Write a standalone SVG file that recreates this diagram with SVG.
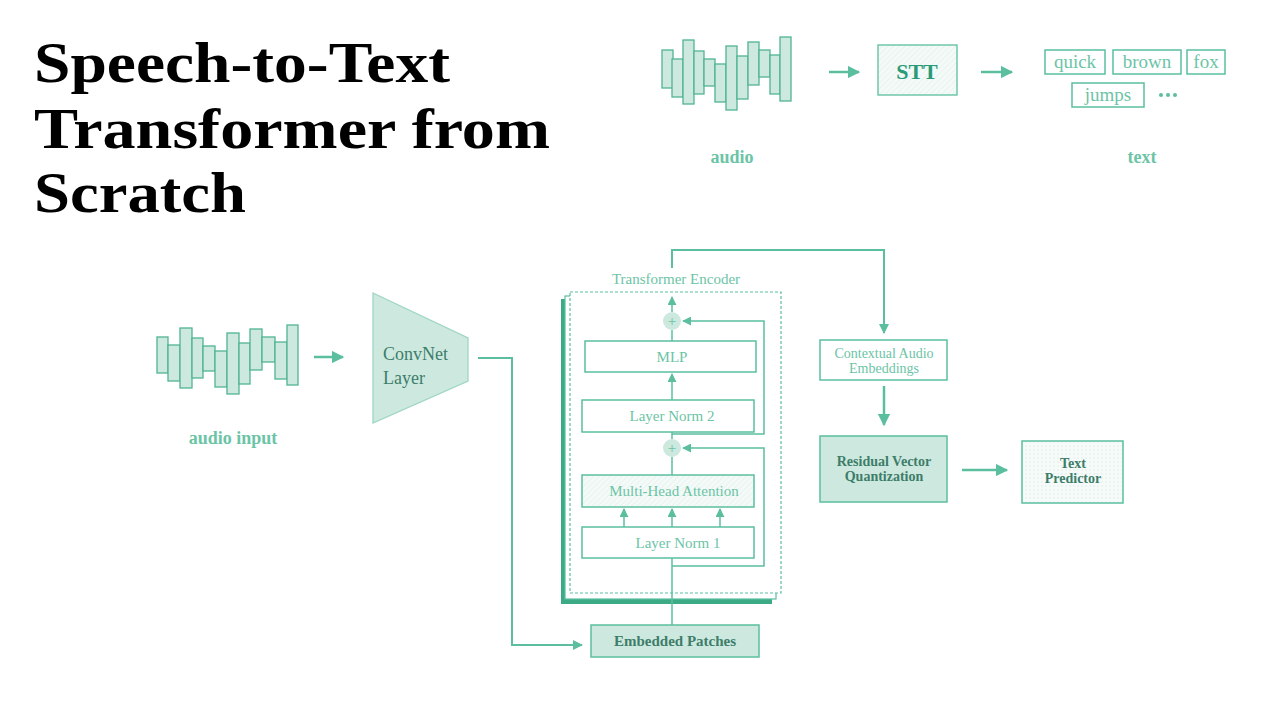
<svg xmlns="http://www.w3.org/2000/svg" width="1280" height="720" viewBox="0 0 1280 720">
<defs>
<style>
.s{fill:none;stroke:#5bbf9f;stroke-width:1.5}
.b{fill:#fff;stroke:#5bbf9f;stroke-width:1.5}
.f{fill:#cde9df;stroke:#5bbf9f;stroke-width:1.5}
.bar{fill:#cde9df;stroke:#4fb492;stroke-width:1.3}
.t{font-family:"Liberation Serif","DejaVu Serif",serif;fill:#6cc4a6;font-size:15px;text-anchor:middle}
.d{font-family:"Liberation Serif","DejaVu Serif",serif;fill:#3d7d6a;font-size:15px;text-anchor:middle;font-weight:bold}
.lbl{font-family:"Liberation Serif","DejaVu Serif",serif;fill:#6cc4a6;font-size:18px;text-anchor:middle;font-weight:bold}
.title{font-family:"Liberation Serif","DejaVu Serif",serif;fill:#000;font-size:58px;font-weight:bold}
</style>
<marker id="ah" viewBox="0 0 10 10" refX="9" refY="5" markerWidth="5" markerHeight="5" orient="auto-start-reverse"><path d="M0,0L10,5L0,10z" fill="#5bbf9f"/></marker>
<marker id="as" viewBox="0 0 10 10" refX="9" refY="5" markerWidth="6" markerHeight="6" orient="auto-start-reverse"><path d="M0,0L10,5L0,10z" fill="#5bbf9f"/></marker>
<pattern id="hatch" width="4" height="4" patternUnits="userSpaceOnUse" patternTransform="rotate(45)"><rect width="4" height="4" fill="#f4faf8"/><line x1="0" y1="0" x2="0" y2="4" stroke="#dcefe8" stroke-width="1"/></pattern>
<pattern id="dots" width="4" height="4" patternUnits="userSpaceOnUse"><rect width="4" height="4" fill="#f6fbf9"/><circle cx="2" cy="2" r="0.7" fill="#d6ece4"/></pattern>
</defs>
<rect width="1280" height="720" fill="#fff"/>
<g id="title">
<text class="title" x="34" y="82" textLength="416" lengthAdjust="spacingAndGlyphs">Speech-to-Text</text>
<text class="title" x="34" y="148" textLength="516" lengthAdjust="spacingAndGlyphs">Transformer from</text>
<text class="title" x="34" y="212" textLength="212" lengthAdjust="spacingAndGlyphs">Scratch</text>
</g>
<g id="audio-top">
<rect class="bar" x="662" y="50" width="11" height="38"/>
<rect class="bar" x="672" y="59" width="11" height="38"/>
<rect class="bar" x="683" y="40" width="11" height="64"/>
<rect class="bar" x="694" y="51" width="10" height="43"/>
<rect class="bar" x="704" y="59" width="11" height="27"/>
<rect class="bar" x="715" y="64" width="11" height="38"/>
<rect class="bar" x="726" y="46" width="11" height="64"/>
<rect class="bar" x="737" y="56" width="11" height="43"/>
<rect class="bar" x="748" y="42" width="11" height="43"/>
<rect class="bar" x="759" y="50" width="11" height="27"/>
<rect class="bar" x="770" y="55" width="10" height="39"/>
<rect class="bar" x="780" y="37" width="11" height="64"/>
<text class="lbl" x="732" y="163">audio</text>
</g>
<g id="stt">
<rect x="878" y="45" width="79" height="50" fill="url(#hatch)" stroke="#5bbf9f" stroke-width="1.3"/>
<text x="917" y="79" font-family="Liberation Serif,serif" font-size="22" font-weight="bold" fill="#2a9a78" text-anchor="middle">STT</text>
</g>
<g id="words">
<rect class="b" x="1045" y="50" width="60" height="24"/><text class="t" x="1075" y="68" style="font-size:19px">quick</text>
<rect class="b" x="1113" y="50" width="68" height="24"/><text class="t" x="1147" y="68" style="font-size:19px">brown</text>
<rect class="b" x="1187" y="50" width="38" height="24"/><text class="t" x="1206" y="68" style="font-size:19px">fox</text>
<rect class="b" x="1072" y="83" width="72" height="24"/><text class="t" x="1108" y="101" style="font-size:19px">jumps</text>
<circle cx="1161" cy="95" r="2" fill="#5bbf9f"/><circle cx="1168" cy="95" r="2" fill="#5bbf9f"/><circle cx="1175" cy="95" r="2" fill="#5bbf9f"/>
<text class="lbl" x="1142" y="163">text</text>
</g>
<g id="audio-input">
<rect class="bar" x="157" y="337" width="11" height="36"/>
<rect class="bar" x="168" y="345" width="12" height="36"/>
<rect class="bar" x="180" y="328" width="12" height="60"/>
<rect class="bar" x="192" y="338" width="11" height="40"/>
<rect class="bar" x="203" y="346" width="12" height="25"/>
<rect class="bar" x="215" y="351" width="12" height="36"/>
<rect class="bar" x="227" y="333" width="12" height="61"/>
<rect class="bar" x="239" y="343" width="11" height="41"/>
<rect class="bar" x="250" y="329" width="12" height="41"/>
<rect class="bar" x="262" y="337" width="13" height="25"/>
<rect class="bar" x="275" y="342" width="12" height="37"/>
<rect class="bar" x="287" y="325" width="11" height="60"/>
<text class="lbl" x="233" y="444">audio  input</text>
</g>
<g id="convnet">
<polygon points="373,293 468,338 468,381 373,423" fill="#cde9df" stroke="#9ed6c3" stroke-width="1.3"/>
<text x="383" y="360" font-family="Liberation Serif,serif" font-size="18" fill="#3d7d6a">ConvNet</text>
<text x="383" y="384" font-family="Liberation Serif,serif" font-size="18" fill="#3d7d6a">Layer</text>
</g>
<g id="encoder">
<rect x="561" y="299" width="211" height="305" fill="#3daa86"/>
<rect x="565" y="296" width="211" height="303" fill="#fff" stroke="#5bbf9f" stroke-width="1.2"/>
<rect x="570" y="292" width="211" height="301" fill="#fff" stroke="#5bbf9f" stroke-width="1.2" stroke-dasharray="3,2"/>
<text class="t" x="676" y="284">Transformer Encoder</text>
</g>
<g id="mlp"><rect class="b" x="585" y="341" width="171" height="31"/><text class="t" x="672" y="362">MLP</text></g>
<g id="ln2"><rect class="b" x="582" y="400" width="172" height="32"/><text class="t" x="672" y="421">Layer Norm 2</text></g>
<g id="mha"><rect x="582" y="475" width="172" height="32" fill="url(#hatch)" stroke="#5bbf9f" stroke-width="1.5"/><text class="t" x="674" y="496">Multi-Head Attention</text></g>
<g id="ln1"><rect class="b" x="582" y="527" width="172" height="31"/><text class="t" x="678" y="548">Layer Norm 1</text></g>
<g id="plus1"><circle cx="672" cy="321" r="9" fill="#cde9df"/><text class="t" x="672" y="326">+</text></g>
<g id="plus2"><circle cx="672" cy="448" r="9" fill="#cde9df"/><text class="t" x="672" y="453">+</text></g>
<g id="embedded"><rect class="f" x="591" y="625" width="168" height="32"/><text class="d" x="675" y="646">Embedded Patches</text></g>
<g id="contextual"><rect class="b" x="820" y="340" width="127" height="40"/><text class="t" x="884" y="358" style="font-size:14px">Contextual Audio</text><text class="t" x="884" y="373" style="font-size:14px">Embeddings</text></g>
<g id="rvq"><rect class="f" x="820" y="436" width="127" height="66"/><text class="d" x="884" y="466" style="font-size:14px">Residual Vector</text><text class="d" x="884" y="481" style="font-size:14px">Quantization</text></g>
<g id="predictor"><rect x="1022" y="441" width="101" height="62" fill="url(#dots)" stroke="#5bbf9f" stroke-width="1.5"/><text class="d" x="1073" y="468" style="font-size:14px">Text</text><text class="d" x="1073" y="483" style="font-size:14px">Predictor</text></g>
<g id="connectors">
<line class="s" x1="829" y1="72" x2="859" y2="72" marker-end="url(#ah)" style="stroke-width:2.5"/>
<line class="s" x1="981" y1="72" x2="1012" y2="72" marker-end="url(#ah)" style="stroke-width:2.5"/>
<line class="s" x1="314" y1="357" x2="343" y2="357" marker-end="url(#ah)" style="stroke-width:2.5"/>
<polyline class="s" points="478,358 512,358 512,645 582,645" marker-end="url(#ah)" style="stroke-width:2"/>
<line class="s" x1="672" y1="625" x2="672" y2="558"/>
<polyline class="s" points="672,566 764,566 764,448 683,448" marker-end="url(#as)"/>
<line class="s" x1="624" y1="527" x2="624" y2="509" marker-end="url(#as)"/>
<line class="s" x1="672" y1="527" x2="672" y2="509" marker-end="url(#as)"/>
<line class="s" x1="720" y1="527" x2="720" y2="509" marker-end="url(#as)"/>
<line class="s" x1="672" y1="475" x2="672" y2="457"/>
<line class="s" x1="672" y1="439" x2="672" y2="432"/>
<polyline class="s" points="672,434 764,434 764,321 683,321" marker-end="url(#as)"/>
<line class="s" x1="672" y1="400" x2="672" y2="374" marker-end="url(#as)"/>
<line class="s" x1="672" y1="341" x2="672" y2="330"/>
<line class="s" x1="672" y1="312" x2="672" y2="297" marker-end="url(#as)"/>
<polyline class="s" points="672,268 672,250 884,250 884,333" marker-end="url(#ah)" style="stroke-width:2"/>
<line class="s" x1="884" y1="386" x2="884" y2="425" marker-end="url(#ah)" style="stroke-width:2.5"/>
<line class="s" x1="962" y1="470" x2="1007" y2="470" marker-end="url(#ah)" style="stroke-width:2.5"/>
</g>
</svg>
